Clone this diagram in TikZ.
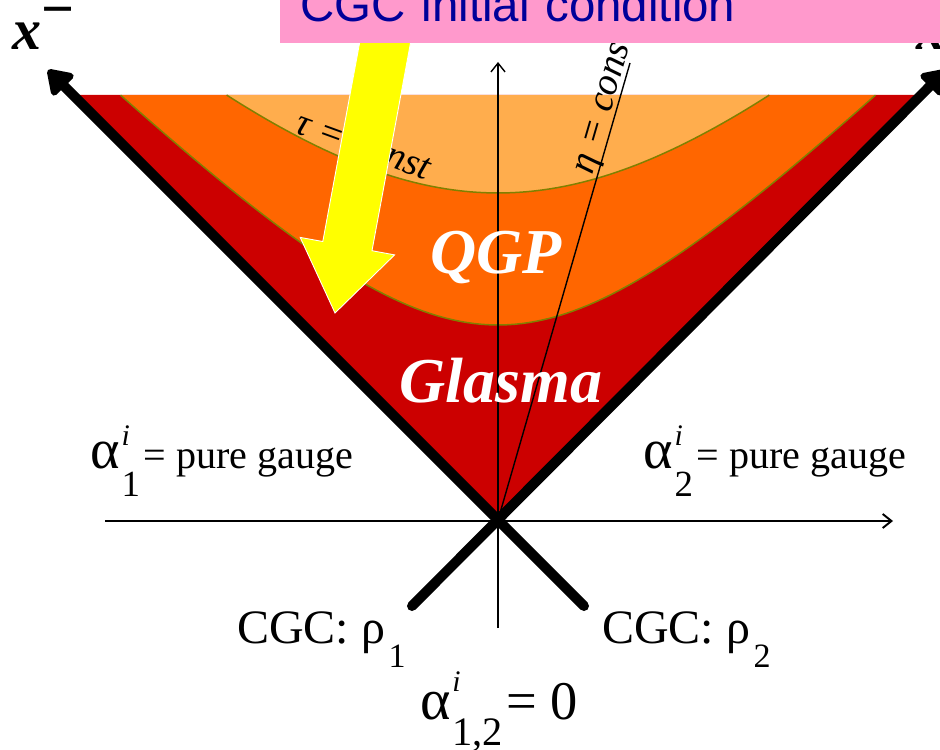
\documentclass[tikz,border=0pt]{standalone}
\usepackage{fontspec}
\setmainfont{Liberation Serif}
\newfontfamily\arialfont{Liberation Sans}
\usetikzlibrary{positioning, arrows.meta}
\definecolor{glasmared}{RGB}{204,0,0}
\definecolor{qgporange}{RGB}{255,102,0}
\definecolor{hadorange}{RGB}{255,173,77}
\definecolor{tauolive}{RGB}{128,128,0}
\definecolor{boxpink}{RGB}{255,153,204}
\definecolor{boxblue}{RGB}{0,0,153}
\definecolor{inityellow}{RGB}{255,255,0}
\newcommand{\fs}[1]{\fontsize{#1}{#1}\selectfont}
\newcommand{\supsub}[4]{\makebox[0pt][l]{\raisebox{#3}{#1}}\raisebox{-#4}{#2}}
\tikzset{
    lightcone/.style={line width=5.7pt, line cap=round, -{Triangle[round, length=15pt, width=19pt]}},
    axis/.style={line width=1.1pt, -{Straight Barb[length=5pt, width=8pt]}},
    vaxis/.style={line width=0.8pt, -{Straight Barb[length=5pt, width=8pt]}},
    etaline/.style={line width=0.8pt},
    tauline/.style={line width=0.85pt, draw=tauolive},
    lbl/.style={inner sep=0pt, anchor=base west, text=black},
    constlbl/.style={inner sep=0pt, anchor=base west, font=\fs{22pt}\itshape},
    phase/.style={inner sep=0pt, text=white, font=\fs{36.4pt}\bfseries\itshape},
    initbox/.style={fill=boxpink, anchor=south west, inner xsep=11.4pt, inner ysep=0pt, text width=355pt, align=left, text height=26pt, text depth=12pt, font=\arialfont\fs{27pt}, text=boxblue},
    initarrow/.style={fill=inityellow, draw=white, line width=0.5pt, line join=miter}
}
\begin{document}
\begin{tikzpicture}[x=0.02cm, y=-0.02cm]
    \useasboundingbox (0,0) rectangle (940,750);
    \coordinate (O) at (498,520);
    \coordinate (tipL) at (48,70);
    \coordinate (tipR) at (946,70);
    \coordinate (lowL) at (412,606);
    \coordinate (lowR) at (584,606);
    \coordinate (zL) at (105,521);
    \coordinate (zR) at (893,521);
    \coordinate (tB) at (498,628);
    \coordinate (tT) at (498,62);
    \coordinate (etaT) at (630,63);
    % regions between the light cone and the tau = const curves
    \fill[glasmared] (O) -- (73,95) -- (923,95) -- cycle;
    \fill[qgporange] plot[domain=-1.4147:1.4147, samples=80] ({498+195*sinh(\x)},{520-195*cosh(\x)}) -- cycle;
    \fill[hadorange] plot[domain=-0.756:0.756, samples=80] ({498+327*sinh(\x)},{520-327*cosh(\x)}) -- cycle;
    \draw[tauline] plot[domain=-1.4147:1.4147, samples=80] ({498+195*sinh(\x)},{520-195*cosh(\x)});
    \draw[tauline] plot[domain=-0.756:0.756, samples=80] ({498+327*sinh(\x)},{520-327*cosh(\x)});
    % axes
    \draw[axis] (zL) -- (zR);
    \draw[vaxis] (tB) -- (tT);
    \draw[etaline] (O) -- (etaT);
    \draw[lightcone] (lowR) -- (tipL);
    \draw[lightcone] (lowL) -- (tipR);
    % labels
    \node[lbl, font=\fs{33pt}\bfseries\itshape] (xminus) at (12,50) {x\raisebox{12.4pt}{\upshape −}};
    \node[lbl, font=\fs{33pt}\bfseries\itshape] (xplus) at (916,50) {x\raisebox{12.4pt}{\upshape +}};
    \node[constlbl, rotate=-20] (taulbl) at (293,132) {τ = const};
    \node[constlbl, rotate=73.8] (etalbl) at (592,176) {η = const};
    \node[phase] (qgp) at (496,258) {QGP};
    \node[phase] (glasma) at (501,381) {Glasma};
    \node[lbl] (alpha1) at (90,468) {{\fs{32pt}α}\kern1pt\supsub{\fs{17pt}\itshape i}{\fs{21pt}1}{13pt}{16.5pt}\kern2pt{\fs{22.8pt}= pure gauge}};
    \node[lbl] (alpha2) at (643,468) {{\fs{32pt}α}\kern1pt\supsub{\fs{17pt}\itshape i}{\fs{21pt}2}{13pt}{16.5pt}\kern2pt{\fs{22.8pt}= pure gauge}};
    \node[lbl] (cgc1) at (237,643) {{\fs{27.3pt}CGC: ρ}\kern2pt\raisebox{-14.2pt}{\fs{19.4pt}1}};
    \node[lbl] (cgc2) at (602,643) {{\fs{27.3pt}CGC: ρ}\kern2pt\raisebox{-14.2pt}{\fs{19.4pt}2}};
    \node[lbl] (alpha0) at (420,719) {{\fs{33pt}α}\kern1pt\supsub{\fs{17pt}\itshape i}{\fs{23pt}1,2}{15.4pt}{14.8pt}\kern2pt{\fs{31pt}= 0}};
    % initial condition box and arrow
    \fill[initarrow] (368.4,-4.6) -- (417.6,4.6) -- (372.0,250.7) -- (394.6,254.9) -- (335,313) -- (300.2,237.4) -- (322.8,241.5) -- cycle;
    \node[initbox] (initbox) at (280,43) {CGC initial condition};
\end{tikzpicture}
\end{document}
